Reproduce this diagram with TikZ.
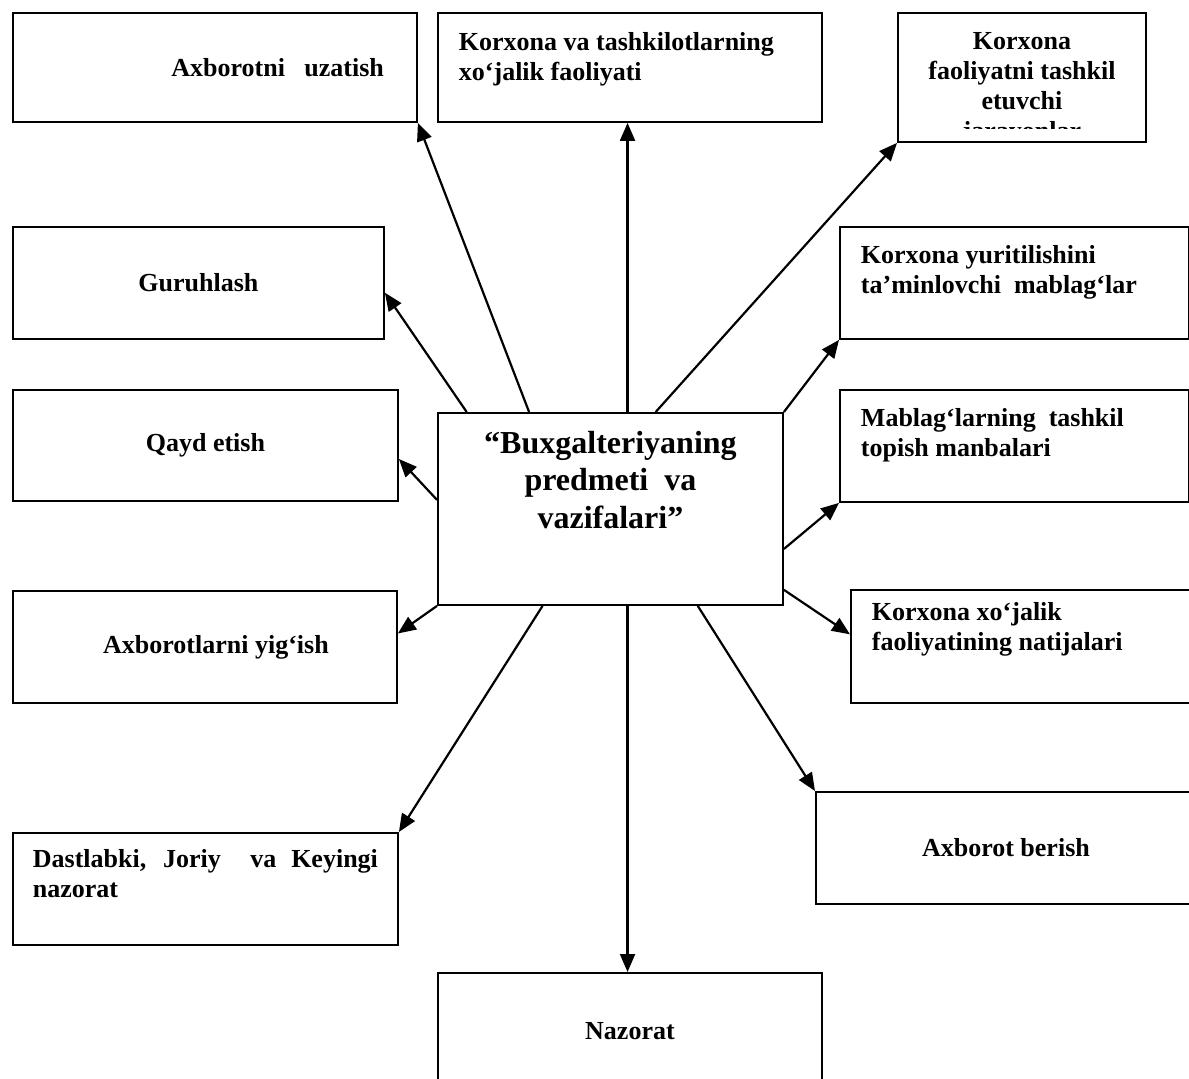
\documentclass[tikz,border=0pt]{standalone}
\usepackage{fontspec}
\setmainfont{Liberation Serif}
\usetikzlibrary{arrows.meta}

\begin{document}
\begin{tikzpicture}[
  x=1pt,y=-1pt,
  txt/.style={font=\bfseries\fontsize{26}{30}\selectfont},
  box/.style={txt,draw,line width=1.9pt,anchor=north west,inner sep=0pt},
  arr/.style={-{Triangle[length=18pt,width=15pt]},line width=2.2pt},
]
\useasboundingbox (0,0) rectangle (1189,1079);

\node[box,inner xsep=33pt] (uzat) at (12,12) {\begin{minipage}[c][109pt][c]{338pt}\raggedleft Axborotni\ \ \ uzatish\end{minipage}};
\node[box,inner xsep=21pt,inner ysep=20pt] (hoj) at (437,12) {\begin{minipage}[c][69pt][t]{342pt}\raggedright Korxona va tashkilotlarning\\xo‘jalik faoliyati\end{minipage}};
\node[box,minimum width=248pt,minimum height=129pt] (pro) at (897,12) {};
\begin{scope}
\clip (897,12) rectangle (1145,128);
\node[txt,inner sep=0pt,anchor=north] (protxt) at ([yshift=-20pt]pro.north) {\begin{minipage}{240pt}\centering Korxona\\faoliyatni tashkil\\etuvchi\\jarayonlar\end{minipage}};
\end{scope}

\node[box] (gur) at (12,226) {\begin{minipage}[c][112pt][c]{371pt}\centering Guruhlash\end{minipage}};
\node[box,inner xsep=21pt,inner ysep=19pt] (tam) at (839,226) {\begin{minipage}[c][74pt][t]{307pt}\raggedright Korxona yuritilishini\\ta’minlovchi\ \ mablag‘lar\end{minipage}};
\node[box] (qayd) at (12,389) {\begin{minipage}[c][111pt][c]{385pt}\centering Qayd etish\end{minipage}};
\node[box,inner xsep=10pt,inner ysep=18pt,font=\bfseries\fontsize{32}{37.5}\selectfont] (pred) at (437,412) {\begin{minipage}[c][156pt][t]{325pt}\centering “Buxgalteriyaning\\predmeti\ \ va\\vazifalari”\end{minipage}};
\node[box,inner xsep=21pt,inner ysep=19pt] (mab) at (839,389) {\begin{minipage}[c][74pt][t]{307pt}\raggedright Mablag‘larning\ \ tashkil\\topish manbalari\end{minipage}};
\node[box] (yig) at (12,590) {\begin{minipage}[c][112pt][c]{384pt}\centering\hspace*{22pt}Axborotlarni yig‘ish\end{minipage}};
\node[box,inner xsep=21pt,inner ysep=13pt] (nat) at (850,589) {\begin{minipage}[c][87pt][t]{303pt}\raggedright Korxona xo‘jalik\\faoliyatining natijalari\end{minipage}};
\node[box,inner xsep=20pt,inner ysep=16pt] (dast) at (12,832) {\begin{minipage}[c][80pt][t]{345pt}Dastlabki, Joriy\ \ va Keyingi \mbox{nazorat}\end{minipage}};
\node[box] (ber) at (815,791) {\begin{minipage}[c][112pt][c]{380pt}\centering Axborot berish\end{minipage}};
\node[box] (naz) at (437,972) {\begin{minipage}[c][116pt][c]{384pt}\centering Nazorat\end{minipage}};

\draw[arr] (pred.130) -- (uzat.south east);
\draw[arr] (pred.146) -- (gur.-3);
\draw[arr] (pred.80) -- (pred.80 |- hoj.south);
\draw[arr] (pred.65) -- (pro.south west);
\draw[arr] (pred.north east) -- (tam.south west);
\draw[arr] (pred.177) -- (qayd.-4);
\draw[arr] (pred.-13) -- (mab.south west);
\draw[arr] (pred.south west) -- (yig.4);
\draw[arr] (pred.-25) -- (nat.176);
\draw[arr] (pred.235) -- (dast.north east);
\draw[arr] (pred.-80) -- (pred.-80 |- naz.north);
\draw[arr] (pred.-48) -- (ber.north west);
\end{tikzpicture}
\end{document}
